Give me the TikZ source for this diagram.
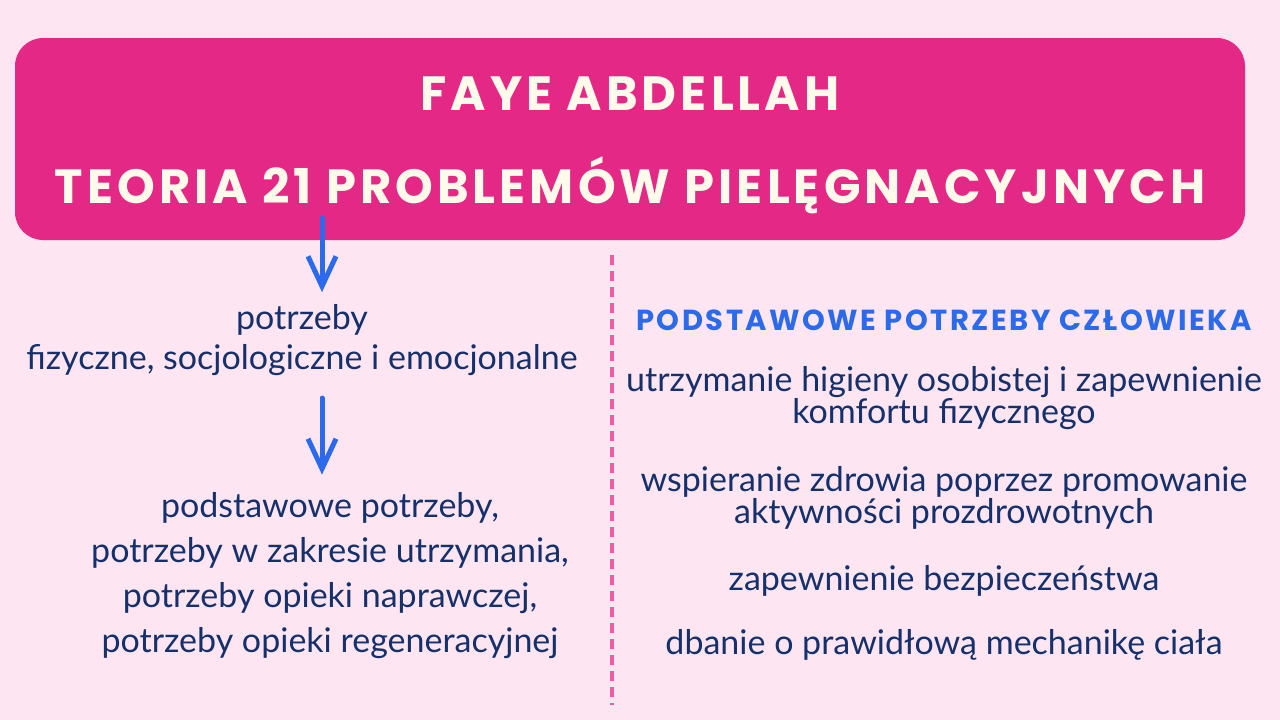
\documentclass[tikz,border=0pt]{standalone}
\usepackage{fontspec}
\usepackage{tikz}
\usetikzlibrary{arrows.meta,positioning}
\setmainfont{Lato}
\newfontfamily\titlefont{Poppins}[LetterSpace=8.5]
\definecolor{bgpink}{HTML}{FDE6F1}
\definecolor{boxpink}{HTML}{E42886}
\definecolor{cream}{HTML}{FFFBEA}
\definecolor{arrowblue}{HTML}{2B6BEB}
\definecolor{inkblue}{HTML}{15306B}
\definecolor{dashpink}{HTML}{E8609F}

\begin{document}
\begin{tikzpicture}[x=1pt, y=-1pt, node distance=36pt,
   banner/.style={fill=boxpink, rounded corners=28pt, minimum width=1230pt, minimum height=202pt, inner sep=0pt},
   title/.style={font=\titlefont\bfseries\fontsize{48}{56}\selectfont, text=cream, inner sep=0pt},
   head/.style={font=\titlefont\bfseries\fontsize{29}{34}\selectfont, text=arrowblue, inner sep=0pt},
   hand/.style={font=\fontsize{34}{32}\selectfont, text=inkblue, align=center, inner sep=0pt},
   flow/.style={-{Straight Barb[length=30pt,width=28pt]}, line width=5pt, line cap=round, arrowblue}]

   % background and page size
   \fill[bgpink] (0,0) rectangle (1280,720);
   \useasboundingbox (0,0) rectangle (1280,720);

   % Define the banner with the title
   \node[banner] (banner) at (630,139) {};
   \node[title, anchor=base] (name) at (630,110) {FAYE ABDELLAH};
   \node[title, anchor=base] (theory) at (630,203) {TEORIA 21 PROBLEMÓW PIELĘGNACYJNYCH};

   % left column
   \node[hand, font=\fontsize{34}{40}\selectfont] (needs) at (302,340) {potrzeby\\fizyczne, socjologiczne i emocjonalne};
   \node[hand, font=\fontsize{34}{45}\selectfont] (kinds) at (330,576) {podstawowe potrzeby,\\potrzeby w zakresie utrzymania,\\potrzeby opieki naprawczej,\\potrzeby opieki regeneracyjnej};

   \coordinate (a1) at (322,218);
   \coordinate (a2) at (322,398);
   \draw[flow, shorten >=12pt] (a1) -- (needs.north -| a1);
   \draw[flow, shorten >=18pt] (a2) -- (a2 |- kinds.north);

   % separator
   \coordinate (divtop) at (612,255);
   \coordinate (divbot) at (612,705);
   \draw[dashpink, line width=4pt, dash pattern=on 10pt off 6pt] (divtop) -- (divbot);

   % right column
   \node[head] (basic) at (944,320) {PODSTAWOWE POTRZEBY CZŁOWIEKA};
   \node[hand] (hygiene) [below=of basic] {utrzymanie higieny osobistej i zapewnienie\\komfortu fizycznego};
   \node[hand] (health) [below=of hygiene] {wspieranie zdrowia poprzez promowanie\\aktywności prozdrowotnych};
   \node[hand] (safety) [below=of health] {zapewnienie bezpieczeństwa};
   \node[hand] (body) [below=of safety, yshift=4pt] {dbanie o prawidłową mechanikę ciała};

\end{tikzpicture}
\end{document}
